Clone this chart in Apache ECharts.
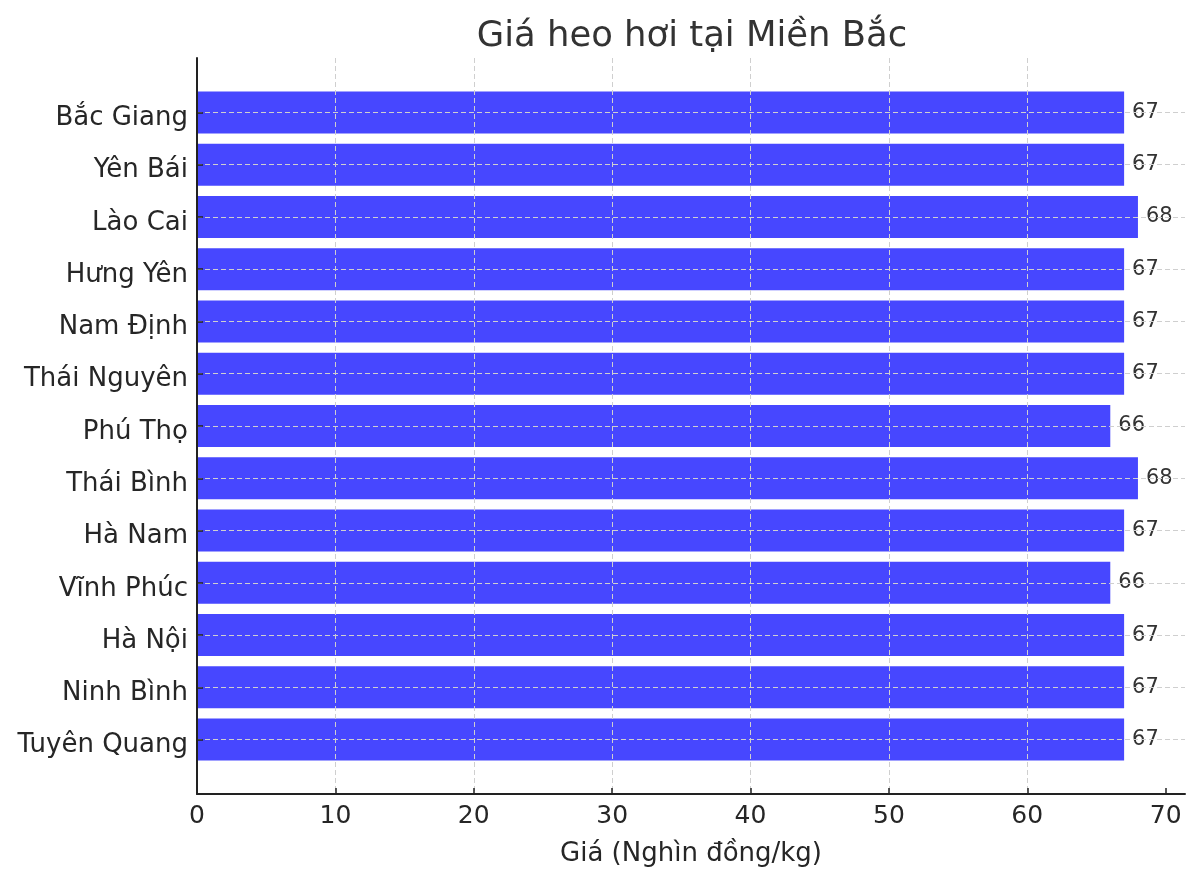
<!DOCTYPE html>
<html>
<head>
<meta charset="utf-8">
<script src="https://cdn.jsdelivr.net/npm/echarts@6/dist/echarts.min.js"></script>
<style>
html,body{margin:0;padding:0;background:#fff;}
#chart{width:1200px;height:882px;}
</style>
</head>
<body>
<div id="chart"></div>
<script>
const categories = ['Bắc Giang','Yên Bái','Lào Cai','Hưng Yên','Nam Định','Thái Nguyên','Phú Thọ','Thái Bình','Hà Nam','Vĩnh Phúc','Hà Nội','Ninh Bình','Tuyên Quang'];
const prices = [67,67,68,67,67,67,66,68,67,66,67,67,67];
const xTicks = [0,10,20,30,40,50,60,70];
const titleText = 'Giá heo hơi tại Miền Bắc';
const xName = 'Giá (Nghìn đồng/kg)';

const FONT = 'DejaVu Sans';
const chart = echarts.init(document.getElementById('chart'), null, {renderer:'canvas'});
const gridLine = {show:true, lineStyle:{color:'#cfcfcf', type:[5,3], width:1}};
const X_MAX = 71.4;
chart.setOption({
  animation:false,
  backgroundColor:'#fff',
  textStyle:{fontFamily:FONT},
  title:{text:titleText, left:687, textAlign:'center', top:14,
    textStyle:{fontFamily:FONT, fontSize:35.4, fontWeight:'normal', color:'#333'}},
  grid:[
    {left:197, right:15, top:58, bottom:88},
    {left:197, right:15, top:112.4, bottom:142.4},
    {left:197, right:15, top:118.4, bottom:136.4}
  ],
  xAxis:[
    {type:'value', gridIndex:0, min:0, max:X_MAX, interval:10, z:3,
     axisLine:{show:true, lineStyle:{color:'#222', width:2}},
     axisTick:{show:true, inside:true, length:6, lineStyle:{color:'#222', width:1.5}, customValues:xTicks},
     axisLabel:{fontFamily:FONT, fontSize:25, color:'#262626', margin:10, customValues:xTicks},
     splitLine:Object.assign({showMaxLine:false, showMinLine:false}, gridLine),
     name:xName, nameLocation:'middle', nameGap:47,
     nameTextStyle:{fontFamily:FONT, fontSize:26, color:'#262626'}},
    {type:'value', gridIndex:1, min:0, max:X_MAX, show:false},
    {type:'value', gridIndex:2, min:0, max:X_MAX, show:false}
  ],
  yAxis:[
    {type:'value', gridIndex:0, min:0, max:1, z:4,
     axisLine:{show:true, lineStyle:{color:'#222', width:2}},
     axisTick:{show:false}, axisLabel:{show:false}, splitLine:{show:false}},
    {type:'category', gridIndex:1, data:categories, inverse:true, boundaryGap:false, z:3,
     axisLine:{show:false},
     axisTick:{show:true, inside:true, length:6, lineStyle:{color:'#222', width:1.5}},
     axisLabel:{show:false},
     splitLine:gridLine},
    {type:'category', gridIndex:2, data:categories, inverse:true, boundaryGap:false,
     axisLine:{show:false}, axisTick:{show:false}, splitLine:{show:false},
     axisLabel:{fontFamily:FONT, fontSize:26, color:'#262626', margin:9}}
  ],
  series:[{
    type:'bar', xAxisIndex:1, yAxisIndex:1, data:prices, barWidth:42, clip:false,
    itemStyle:{color:'#4747ff'},
    label:{show:true, position:'right', distance:8, fontFamily:FONT, fontSize:21, color:'#333'}
  }]
});
</script>
</body>
</html>
